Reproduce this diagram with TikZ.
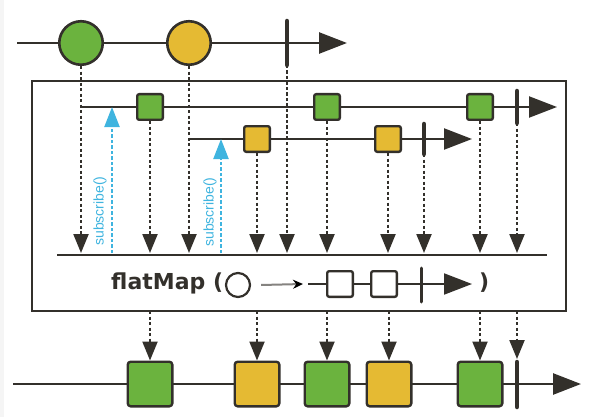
\documentclass[tikz,border=0pt]{standalone}
\usepackage{fontspec}
\setmainfont{DejaVu Sans}
\newfontfamily\subfont{Liberation Sans}
\usetikzlibrary{arrows.meta}

\definecolor{marblegreen}{HTML}{6BB33E}
\definecolor{marbleyellow}{HTML}{E5BA33}
\definecolor{ink}{HTML}{33302B}
\definecolor{subblue}{HTML}{3FB4DF}

\begin{document}
\begin{tikzpicture}[x=1pt, y=-1pt,
    timeline/.style={ink, line width=2.6pt, -{Triangle[length=28pt, width=21pt]}},
    marble/.style={circle, draw=ink, line width=2.6pt, minimum size=43.5pt, inner sep=0pt},
    item/.style={draw=ink, line width=2.4pt, rounded corners=2pt, minimum size=25.6pt, inner sep=0pt},
    bigitem/.style={item, rounded corners=3pt, minimum size=44.6pt},
    endbar/.style={ink, line width=4.5pt, line cap=round},
    emit/.style={ink, line width=2.2pt, dash pattern=on 3.3pt off 2.2pt, -{Triangle[length=19pt, width=15pt]}},
    subscribe/.style={subblue, line width=2.2pt, dash pattern=on 3.3pt off 2.2pt, -{Triangle[length=20pt, width=15pt]}},
    sublabel/.style={subblue, rotate=90, inner sep=0pt, font=\subfont\fontsize{14}{14}\selectfont}]
  \useasboundingbox (0,0) rectangle (599,417);
  \fill[black!4] (0,0) rectangle (4,417);

  % source stream
  \coordinate (src0) at (17,43);
  \coordinate (src9) at (347,43);
  \draw[timeline] (src0) -- (src9);
  \node[marble, fill=marblegreen] (s1) at (81,43) {};
  \node[marble, fill=marbleyellow] (s2) at (189,43) {};
  \coordinate (s3) at (287,21);
  \coordinate (s3b) at (287,65);
  \draw[endbar] (s3) -- (s3b);

  % operator box
  \node[draw=ink, line width=2.4pt, outer sep=0pt, minimum width=534pt, minimum height=230pt, anchor=north west] (op) at (32,81) {};

  % inner streams
  \coordinate (in1) at (82,107);
  \coordinate (in1e) at (557,107);
  \draw[timeline, line width=2.2pt] (in1) -- (in1e);
  \coordinate (in2) at (190,139);
  \coordinate (in2e) at (472,139);
  \draw[timeline, line width=2.2pt] (in2) -- (in2e);
  \node[item, fill=marblegreen] (i1) at (150,107) {};
  \node[item, fill=marblegreen] (i3) at (327,107) {};
  \node[item, fill=marblegreen] (i5) at (480,107) {};
  \coordinate (i6) at (517,91);
  \coordinate (i6b) at (517,123);
  \draw[endbar] (i6) -- (i6b);
  \node[item, fill=marbleyellow] (i2) at (257,139) {};
  \node[item, fill=marbleyellow] (i4) at (388,139) {};
  \coordinate (j3) at (424,124);
  \coordinate (j3b) at (424,154);
  \draw[endbar] (j3) -- (j3b);

  % merged line
  \coordinate (m0) at (57,255);
  \coordinate (m9) at (547,255);
  \draw[ink, line width=2.2pt] (m0) -- (m9);
  \coordinate (hit) at (0,253);
  \draw[emit] (s1.south) -- (s1 |- hit);
  \draw[emit] (s2.south) -- (s2 |- hit);
  \draw[emit] (s3b) -- (s3b |- hit);
  \draw[emit] (i1.south) -- (i1 |- hit);
  \draw[emit] (i2.south) -- (i2 |- hit);
  \draw[emit] (i3.south) -- (i3 |- hit);
  \draw[emit] (i4.south) -- (i4 |- hit);
  \draw[emit] (j3b) -- (j3b |- hit);
  \draw[emit] (i5.south) -- (i5 |- hit);
  \draw[emit] (i6b) -- (i6b |- hit);

  % subscriptions
  \coordinate (sub1) at (112,253);
  \coordinate (sub2) at (221,253);
  \draw[subscribe] (sub1) -- (sub1 |- in1);
  \draw[subscribe] (sub2) -- (sub2 |- in2);
  \node[sublabel] (lab1) at (100,211) {subscribe()};
  \node[sublabel] (lab2) at (210,212) {subscribe()};

  % operator label
  \node[anchor=base west, inner sep=0pt, ink, font=\bfseries\fontsize{22}{22}\selectfont] (fm) at (111,289) {flatMap (};
  \node[circle, draw=ink, line width=2.2pt, minimum size=24pt, inner sep=0pt] (fc) at (238,285) {};
  \coordinate (q0) at (308,284);
  \coordinate (q9) at (472,284);
  \draw[ink!60, line width=2pt, -{Stealth[length=10pt, width=9pt, color=black]}] ([xshift=10pt]fc.east) -- ([xshift=-5pt]q0);
  \draw[timeline, line width=2pt] (q0) -- (q9);
  \node[item, fill=white] (q1) at (340,284) {};
  \node[item, fill=white] (q2) at (384,284) {};
  \coordinate (q3) at (421,268);
  \coordinate (q3b) at (421,302);
  \draw[endbar, line width=3pt] (q3) -- (q3b);
  \node[anchor=base west, inner sep=0pt, ink, font=\bfseries\fontsize{22}{22}\selectfont] (fmc) at (479,289) {)};

  % result stream
  \coordinate (out0) at (13,384);
  \coordinate (out9) at (581,384);
  \draw[timeline] (out0) -- (out9);
  \node[bigitem, fill=marblegreen] (o1) at (150,384) {};
  \node[bigitem, fill=marbleyellow] (o2) at (257,384) {};
  \node[bigitem, fill=marblegreen] (o3) at (327,384) {};
  \node[bigitem, fill=marbleyellow] (o4) at (389,384) {};
  \node[bigitem, fill=marblegreen] (o5) at (480,384) {};
  \coordinate (o6) at (517,362);
  \coordinate (o6b) at (517,407);
  \draw[endbar] (o6) -- (o6b);
  \draw[emit] (op.south -| o1) -- (o1.north);
  \draw[emit] (op.south -| o2) -- (o2.north);
  \draw[emit] (op.south -| o3) -- (o3.north);
  \draw[emit] (op.south -| o4) -- (o4.north);
  \draw[emit] (op.south -| o5) -- (o5.north);
  \draw[emit, shorten >=3pt] (op.south -| o6) -- (o6);
\end{tikzpicture}
\end{document}
